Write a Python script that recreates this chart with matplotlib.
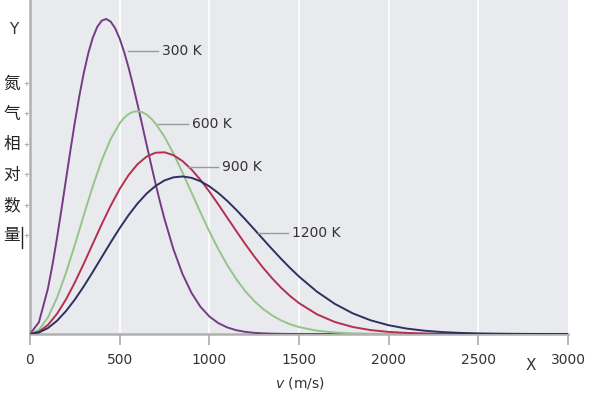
import numpy as np
import matplotlib
matplotlib.use("Agg")
import matplotlib.pyplot as plt

plt.rcParams['font.family'] = ['DejaVu Sans', 'Noto Sans CJK SC']

# 速度 (m/s)
speed = [0, 50, 100, 150, 200, 250, 300, 350, 400, 450, 500, 550, 600, 650, 700,
         750, 800, 850, 900, 950, 1000, 1050, 1100, 1150, 1200, 1250, 1300, 1350,
         1400, 1450, 1500, 1600, 1700, 1800, 1900, 2000, 2100, 2200, 2300, 2400,
         2500, 2600, 2700, 2800, 2900, 3000]
# 300 K / 600 K 峰值附近取点更密
speed_300 = [0, 50, 100, 125, 150, 175, 200, 225, 250, 275, 300, 325, 350, 375,
             400, 425, 450, 475, 500, 525, 550, 575, 600, 625, 650, 675, 700,
             725, 750, 800, 850, 900, 950, 1000, 1050, 1100, 1150, 1200, 1250,
             1300, 1350, 1400, 1450, 1500, 1600, 3000]
speed_600 = [0, 50, 100, 150, 200, 250, 300, 350, 400, 450, 500, 525, 550, 575,
             600, 625, 650, 675, 700, 750, 800, 850, 900, 950, 1000, 1050, 1100,
             1150, 1200, 1250, 1300, 1350, 1400, 1450, 1500, 1600, 1700, 1800,
             1900, 2000, 2100, 2200, 3000]

# 相对数量（300 K 峰值 = 100）
n_300 = [0, 3.76, 14.43, 21.84, 30.27, 39.36, 48.78, 58.16, 67.16, 75.50, 82.88,
         89.10, 93.99, 97.46, 99.45, 99.98, 99.14, 97.00, 93.74, 89.50, 84.47,
         78.82, 72.78, 66.50, 60.14, 53.84, 47.74, 41.92, 36.48, 26.86, 19.09,
         13.09, 8.67, 5.56, 3.45, 2.07, 1.20, 0.68, 0.37, 0.20, 0.10, 0.05, 0.02,
         0.01, 0, 0]
n_600 = [0, 1.34, 5.25, 11.40, 19.29, 28.30, 37.72, 46.87, 55.10, 61.89, 66.87,
         68.61, 69.82, 70.52, 70.70, 70.41, 69.62, 68.41, 66.81, 62.58, 57.27,
         51.28, 44.97, 38.64, 32.56, 26.94, 21.86, 17.42, 13.63, 10.49, 7.93,
         5.90, 4.31, 3.10, 2.19, 1.04, 0.47, 0.20, 0.08, 0.03, 0.01, 0, 0]
n_900 = [0, 0.73, 2.88, 6.34, 10.90, 16.34, 22.34, 28.62, 34.84, 40.72, 46.00,
         50.45, 53.91, 56.29, 57.53, 57.66, 56.75, 54.90, 52.24, 48.96, 45.19,
         41.13, 36.90, 32.68, 28.57, 24.64, 21.00, 17.67, 14.69, 12.06, 9.80,
         6.24, 3.80, 2.21, 1.23, 0.66, 0.34, 0.17, 0.08, 0.04, 0.02, 0.01, 0, 0,
         0, 0]
n_1200 = [0, 0.48, 1.88, 4.16, 7.22, 10.92, 15.13, 19.68, 24.39, 29.08, 33.58,
          37.75, 41.44, 44.55, 46.99, 48.73, 49.72, 49.99, 49.57, 48.50, 46.87,
          44.75, 42.24, 39.41, 36.39, 33.25, 30.07, 26.92, 23.87, 20.96, 18.24,
          13.43, 9.55, 6.54, 4.33, 2.78, 1.72, 1.04, 0.60, 0.34, 0.18, 0.10, 0.05,
          0.02, 0.01, 0.01]

x_ticks = [0, 500, 1000, 1500, 2000, 2500, 3000]
y_chars = ['氮', '气', '相', '对', '数', '量']

series = [
    ('300 K', speed_300, n_300, '#763a86', (128, 51)),
    ('600 K', speed_600, n_600, '#93c58a', (158, 124)),
    ('900 K', speed, n_900, '#b3304f', (188, 167)),
    ('1200 K', speed, n_1200, '#2e2f62', (258, 233)),
]

fig = plt.figure(figsize=(6, 3.96), dpi=100)
ax = fig.add_axes([0.05, 0.1566, 0.8967, 0.8434])
ax.set_facecolor('#e9eaee')

for t in x_ticks[1:-1]:
    ax.axvline(t, color='white', lw=1.2, zorder=1)

for name, xs, vals, col, _ in series:
    ax.plot(xs, vals, color=col, lw=1.4, zorder=3, solid_joinstyle='round')

ax.set_xlim(0, 3000)
ax.set_ylim(0, 106)
ax.set_xticks(x_ticks)
ax.set_xticklabels([str(t) for t in x_ticks], fontsize=10, color='#333333')
ax.set_yticks([])
ax.tick_params(axis='x', length=8, width=1.2, color='#aaaaaa', pad=6)
for s in ['top', 'right']:
    ax.spines[s].set_visible(False)
ax.spines['left'].set_color('#b0b0b0')
ax.spines['left'].set_linewidth(1.8)
ax.spines['bottom'].set_color('#b0b0b0')
ax.spines['bottom'].set_linewidth(1.8)

# 标签引线（像素坐标 -> 图坐标）
W, H = 600, 396
for name, xs, vals, col, (px, py) in series:
    fy = 1 - py / H
    fig.add_artist(plt.Line2D([px / W, (px + 30) / W], [fy, fy],
                              color='#999999', lw=1.0))
    fig.text((px + 34) / W, fy, name, fontsize=10, color='#333333',
             va='center', ha='left')

fig.text(300 / W, 1 - 383 / H, r'$v$ (m/s)', fontsize=10, color='#333333',
         ha='center', va='center', math_fontfamily='dejavusans')
fig.text(531 / W, 1 - 366 / H, 'X', fontsize=11, color='#333333',
         ha='center', va='center')
fig.text(14 / W, 1 - 30 / H, 'Y', fontsize=11, color='#333333',
         ha='center', va='center')

for i, ch in enumerate(y_chars):
    yy = 1 - (84 + i * 30.4) / H
    fig.text(12 / W, yy, ch, fontsize=12, color='#222222', ha='center',
             va='center', family=['Noto Sans CJK SC', 'DejaVu Sans'])
    fig.text(26 / W, yy, '+', fontsize=5, color='#888888', ha='center',
             va='center')
fig.add_artist(plt.Line2D([22 / W, 22 / W], [1 - 227 / H, 1 - 248 / H],
                          color='#222222', lw=1.0))

fig.savefig('out.png', dpi=100)
